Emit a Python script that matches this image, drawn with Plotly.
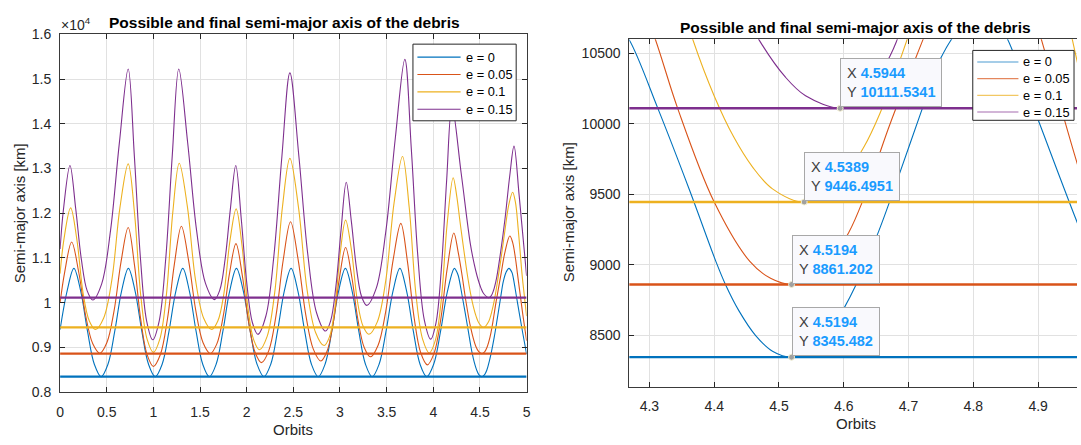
import plotly.graph_objects as go

# ---------------- data ----------------
E_LABELS = ["e = 0", "e = 0.05", "e = 0.1", "e = 0.15"]

orbits_e0 = [0, 0.075, 0.148, 0.221, 0.294, 0.367, 0.44, 0.513, 0.586, 0.659, 0.732,
             0.804, 0.876, 0.948, 1.02, 1.094, 1.1675, 1.241, 1.315, 1.386, 1.4575, 1.529, 1.60,
             1.6725, 1.745, 1.8175, 1.89, 1.964, 2.0375, 2.111, 2.185, 2.258, 2.3305, 2.403, 2.476,
             2.549, 2.6215, 2.694, 2.767, 2.840, 2.9125, 2.985, 3.058, 3.130, 3.2015, 3.273, 3.345,
             3.419, 3.4935, 3.568, 3.642, 3.714, 3.786, 3.858, 3.93, 4.004, 4.078, 4.152,
             4.226, 4.25, 4.268, 4.313, 4.362, 4.403, 4.417, 4.438, 4.464, 4.49, 4.5194,
             4.55, 4.575, 4.6, 4.618, 4.654, 4.687, 4.722, 4.75, 4.78, 4.811,
             4.842, 4.853, 4.90, 4.959, 5.0]
a_e0 = [9400, 10259, 10768, 10259, 9363, 8624, 8345, 8624, 9363, 10259, 10768,
        10259, 9363, 8624, 8345, 8624, 9363, 10259, 10768, 10259, 9363, 8624, 8345,
        8624, 9363, 10259, 10768, 10259, 9363, 8624, 8345, 8624, 9363, 10259, 10768,
        10259, 9363, 8624, 8345, 8624, 9363, 10259, 10768, 10259, 9363, 8624, 8345,
        8624, 9363, 10259, 10768, 10259, 9363, 8624, 8345, 8624, 9363, 10259,
        10768, 10700, 10603, 10111, 9530, 9020, 8865, 8676, 8499, 8388, 8345.482,
        8392, 8500, 8690, 8850, 9240, 9660, 10120, 10470, 10680, 10768,
        10680, 10600, 10030, 9317, 8850]

orbits_e005 = [0, 0.049, 0.124, 0.1995, 0.275, 0.3505, 0.426, 0.502, 0.578, 0.654, 0.73,
               0.7975, 0.865, 0.9325, 1.0, 1.075, 1.15, 1.225, 1.30, 1.3775, 1.455, 1.5325, 1.61,
               1.679, 1.7475, 1.816, 1.885, 1.9535, 2.022, 2.0905, 2.159, 2.237, 2.3145, 2.392, 2.47,
               2.551, 2.6325, 2.714, 2.795, 2.861, 2.9275, 2.994, 3.06, 3.1265, 3.193, 3.2595, 3.326,
               3.4075, 3.489, 3.5705, 3.652, 3.723, 3.794, 3.865, 3.936, 4.007, 4.078, 4.149,
               4.22, 4.265, 4.309, 4.3436, 4.40, 4.455, 4.487, 4.5194,
               4.55, 4.575, 4.6077, 4.6306, 4.65, 4.6714, 4.7224, 4.77, 4.82,
               4.85, 4.88, 4.9025, 4.93, 4.959, 5.0]
a_e005 = [10000, 10680, 11357, 10686, 9703, 9081, 8870, 9109, 9812, 10922, 11681,
          10842, 9616, 8839, 8575, 8841, 9625, 10864, 11710, 10942, 9818, 9107, 8865,
          9074, 9688, 10658, 11321, 10603, 9552, 8887, 8661, 8929, 9716, 10960, 11810,
          10969, 9740, 8962, 8697, 8913, 9547, 10550, 11235, 10575, 9610, 8999, 8791,
          9045, 9790, 10969, 11774, 10920, 9671, 8880, 8611, 8861, 9598, 10762,
          11558, 11150, 10603, 10111, 9446, 9025, 8905, 8861.202,
          8903, 9000, 9230, 9470, 9720, 10000, 10600, 11150, 11490,
          11350, 11000, 10640, 10200, 9740, 9150]

orbits_e01 = [0, 0.04, 0.113, 0.1798, 0.2465, 0.3133, 0.38, 0.4675, 0.555, 0.6425, 0.73,
              0.7975, 0.865, 0.9325, 1.0, 1.069, 1.1385, 1.208, 1.277, 1.364, 1.451, 1.538, 1.625,
              1.6905, 1.756, 1.8215, 1.887, 1.9498, 2.0125, 2.0753, 2.138, 2.2193, 2.3005, 2.3818, 2.463,
              2.5548, 2.6465, 2.7383, 2.83, 2.8875, 2.945, 3.0025, 3.06, 3.1225, 3.185, 3.2475, 3.31,
              3.40, 3.49, 3.58, 3.67, 3.7418, 3.8135, 3.8853, 3.957, 4.021, 4.085, 4.149,
              4.213, 4.25, 4.29, 4.3667, 4.40, 4.43, 4.459, 4.49, 4.5389,
              4.589, 4.6306, 4.6561, 4.6893, 4.73, 4.77, 4.81, 4.85,
              4.88, 4.91, 4.946, 4.96, 5.0]
a_e01 = [10650, 11400, 12119, 11412, 10216, 9590, 9400, 9659, 10511, 12141, 13104,
         12008, 10154, 9185, 8890, 9186, 10159, 12019, 13119, 12152, 10516, 9660, 9400,
         9589, 10209, 11397, 12098, 11279, 9894, 9169, 8949, 9248, 10232, 12114, 13226,
         12138, 10297, 9335, 9042, 9238, 9883, 11117, 11846, 11182, 10060, 9473, 9294,
         9572, 10487, 12236, 13270, 12128, 10195, 9185, 8877, 9151, 10052, 11776,
         12795, 12400, 11750, 10603, 10199, 9909, 9696, 9540, 9446.4951,
         9562, 9833, 10078, 10487, 11050, 11650, 12200, 12470,
         12250, 11650, 10750, 10450, 9700]

orbits_e015 = [0, 0.036, 0.106, 0.1673, 0.2285, 0.2898, 0.351, 0.4458, 0.5405, 0.6353, 0.73,
               0.7958, 0.8615, 0.9273, 0.993, 1.0628, 1.1325, 1.2023, 1.272, 1.3675, 1.463, 1.5585, 1.654,
               1.7113, 1.7685, 1.8258, 1.883, 1.9423, 2.0015, 2.0608, 2.12, 2.2058, 2.2915, 2.3773, 2.463,
               2.5585, 2.654, 2.7495, 2.845, 2.9005, 2.956, 3.0115, 3.067, 3.122, 3.177, 3.232, 3.287,
               3.389, 3.491, 3.593, 3.695, 3.7643, 3.8335, 3.9028, 3.972, 4.029, 4.086, 4.143,
               4.20, 4.2985, 4.397, 4.44, 4.4692, 4.51, 4.541, 4.5944,
               4.62, 4.645, 4.6714, 4.681, 4.7227, 4.77, 4.82, 4.865,
               4.92, 5.0]
a_e015 = [11200, 12080, 13068, 12105, 10962, 10271, 10060, 10422, 11610, 13572, 15225,
          13288, 10988, 9596, 9172, 9596, 10988, 13288, 15225, 13575, 11617, 10431, 10070,
          10280, 10969, 12109, 13068, 11860, 10426, 9558, 9294, 9703, 11048, 13269, 15139,
          13292, 11098, 9770, 9366, 9599, 10364, 11629, 12694, 11813, 10767, 10134, 9941,
          10326, 11591, 13681, 15441, 13439, 11063, 9624, 9186, 9551, 10750, 12732,
          14400, 12900, 11316, 10850, 10597, 10332, 10200, 10111.5341,
          10152, 10272, 10483, 10582, 11150, 11900, 12850, 13500,
          12400, 10600]

final_a = [8345.482, 8861.202, 9446.4951, 10111.5341]
final_x_span = [0, 5]
tip_x = [4.5194, 4.5194, 4.5389, 4.5944]

left_xticks = [0, 0.5, 1, 1.5, 2, 2.5, 3, 3.5, 4, 4.5, 5]
left_yticks = [8000, 9000, 10000, 11000, 12000, 13000, 14000, 15000, 16000]
right_xticks = [4.3, 4.4, 4.5, 4.6, 4.7, 4.8, 4.9]
right_yticks = [8500, 9000, 9500, 10000, 10500]

# ---------------- styling / layout ----------------
COLORS = ["#0072BD", "#D95319", "#EDB120", "#7E2F8E"]
LEG2_COLORS = ["#4D9CD1", "#E4875E", "#F2C863", "#A56DB0"]
FONT = "Liberation Sans, Arial, Helvetica, sans-serif"
TXT = "#262626"
GRID = "#e1e1e1"
W, H = 1081, 445

# legend boxes (pixel layout): box, first row centre, row step, key span, text start
LEGENDS = [
    dict(box=(412, 37.5, 516, 117), row0=51, step=18, key=(416.5, 460), text=463, colors=COLORS),
    dict(box=(976, 44, 1078, 116.5), row0=56, step=17.3, key=(980.5, 1022), text=1025, colors=LEG2_COLORS),
]


def fx(p):
    return p / W


def fy(p):
    return 1 - p / H


series = [(orbits_e0, a_e0), (orbits_e005, a_e005), (orbits_e01, a_e01), (orbits_e015, a_e015)]

fig = go.Figure()

for xa, ya in (("x", "y"), ("x2", "y2")):
    for i, (xs, ys) in enumerate(series):
        fig.add_trace(go.Scatter(
            x=xs, y=ys, mode="lines", name=E_LABELS[i],
            line=dict(color=COLORS[i], width=1.1, shape="spline", smoothing=1.0),
            xaxis=xa, yaxis=ya, showlegend=False, hoverinfo="skip"))
    for i, fa in enumerate(final_a):
        fig.add_trace(go.Scatter(
            x=final_x_span, y=[fa, fa], mode="lines",
            line=dict(color=COLORS[i], width=2.3),
            xaxis=xa, yaxis=ya, showlegend=False, hoverinfo="skip"))

# datatip markers
fig.add_trace(go.Scatter(
    x=tip_x, y=final_a, mode="markers",
    marker=dict(size=6, color="#a0a0a0", line=dict(color="#f4f0d0", width=1)),
    xaxis="x2", yaxis="y2", showlegend=False, hoverinfo="skip"))

annotations = []
for tx, ty in zip(tip_x, final_a):
    annotations.append(dict(
        x=tx, y=ty, xref="x2", yref="y2", xanchor="left", yanchor="bottom",
        showarrow=False, align="left",
        text=("X <span style='color:#1a9bff'><b>%s</b></span><br>"
              "Y <span style='color:#1a9bff'><b>%s</b></span>") % (repr(tx), repr(ty)),
        font=dict(family=FONT, size=14.5, color="#404040"),
        bgcolor="#f9f9fd", bordercolor="#a8a8a8", borderwidth=1, borderpad=6,
        yshift=1))

title_txt = "<b>Possible and final semi-major axis of the debris</b>"
annotations += [
    dict(text=title_txt, x=fx(283), y=fy(15), xref="paper", yref="paper",
         xanchor="center", yanchor="middle", showarrow=False,
         font=dict(family=FONT, size=15.5, color="#000000")),
    dict(text=title_txt, x=fx(858), y=fy(20.5), xref="paper", yref="paper",
         xanchor="center", yanchor="middle", showarrow=False,
         font=dict(family=FONT, size=15.5, color="#000000")),
    dict(text="Orbits", x=fx(291.5), y=fy(437), xref="paper", yref="paper",
         xanchor="center", yanchor="middle", showarrow=False,
         font=dict(family=FONT, size=15, color=TXT)),
    dict(text="Orbits", x=fx(858), y=fy(431), xref="paper", yref="paper",
         xanchor="center", yanchor="middle", showarrow=False,
         font=dict(family=FONT, size=15, color=TXT)),
    dict(text="Semi-major axis [km]", x=fx(15), y=fy(213), xref="paper", yref="paper",
         xanchor="center", yanchor="middle", showarrow=False, textangle=-90,
         font=dict(family=FONT, size=15, color=TXT)),
    dict(text="Semi-major axis [km]", x=fx(569), y=fy(212), xref="paper", yref="paper",
         xanchor="center", yanchor="middle", showarrow=False, textangle=-90,
         font=dict(family=FONT, size=15, color=TXT)),
    dict(text="\u00d710<sup>4</sup>", x=fx(55), y=fy(17), xref="paper", yref="paper",
         xanchor="left", yanchor="middle", showarrow=False,
         font=dict(family=FONT, size=14, color=TXT)),
]

# legends: framed white boxes with coloured keys and labels
shapes = []
for lg in LEGENDS:
    x0, y0, x1, y1 = lg["box"]
    shapes.append(dict(type="rect", xref="paper", yref="paper", layer="above",
                       x0=fx(x0), x1=fx(x1), y0=fy(y1), y1=fy(y0),
                       fillcolor="white", line=dict(color="#262626", width=1)))
    for k, lab in enumerate(E_LABELS):
        yr = lg["row0"] + k * lg["step"]
        shapes.append(dict(type="line", xref="paper", yref="paper", layer="above",
                           x0=fx(lg["key"][0]), x1=fx(lg["key"][1]), y0=fy(yr), y1=fy(yr),
                           line=dict(color=lg["colors"][k], width=1.1)))
        annotations.append(dict(text=lab, x=fx(lg["text"]), y=fy(yr), xref="paper", yref="paper",
                                xanchor="left", yanchor="middle", showarrow=False,
                                font=dict(family=FONT, size=12.8, color="#000000")))

axis_common = dict(
    showgrid=True, gridcolor=GRID, gridwidth=1, zeroline=False,
    ticks="inside", ticklen=5, tickwidth=1, tickcolor=TXT,
    showline=True, linecolor="#3a3a3a", linewidth=1,
    tickfont=dict(family=FONT, size=14, color=TXT),
)

fig.update_layout(
    width=W, height=H, autosize=False,
    margin=dict(l=0, r=0, t=0, b=0),
    paper_bgcolor="white", plot_bgcolor="white",
    font=dict(family=FONT, color=TXT),
    xaxis=dict(axis_common, domain=[fx(56.5), fx(526.5)], range=[0, 5], anchor="y",
               tickvals=left_xticks, ticktext=["%g" % v for v in left_xticks],
               mirror="ticks", ticklabelstandoff=7),
    yaxis=dict(axis_common, domain=[fy(398.5), fy(27.3)], range=[8000, 16000], anchor="x",
               tickvals=left_yticks, ticktext=["%g" % (v / 1e4) for v in left_yticks],
               mirror="ticks", ticklabelstandoff=5),
    xaxis2=dict(axis_common, domain=[fx(630), 1.0], range=[4.269, 4.96], anchor="y2",
                tickvals=right_xticks, ticktext=["%g" % v for v in right_xticks],
                mirror="ticks", ticklabelstandoff=7),
    yaxis2=dict(axis_common, domain=[fy(392.7), fy(32.3)], range=[8137, 10602], anchor="x2",
                tickvals=right_yticks, ticktext=["%d" % v for v in right_yticks],
                mirror=False, ticklabelstandoff=5),
    shapes=shapes,
    annotations=annotations,
    showlegend=False,
)

fig.write_html("out.html")
